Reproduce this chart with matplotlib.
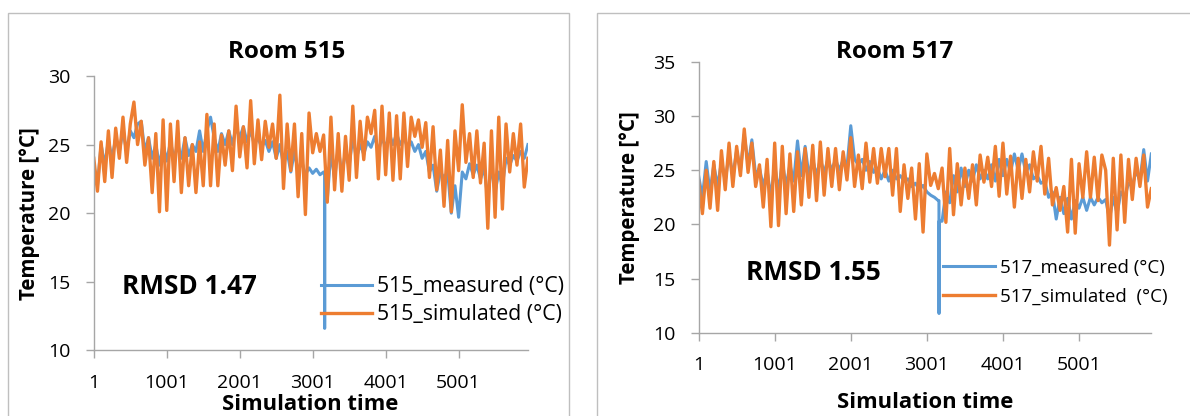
import numpy as np
import matplotlib
matplotlib.use("Agg")
import matplotlib.pyplot as plt
from matplotlib.patches import Rectangle

plt.rcParams['font.family'] = ['Open Sans', 'DejaVu Sans']

# ---------------- data (sampled every 50 simulation steps, starting at step 1) ----------------
STEP = 50

sim_515 = [24.0, 21.6, 25.2, 22.3, 26.0, 22.6, 26.2, 24.0, 27.0, 23.7,
           26.5, 28.1, 25.0, 26.7, 23.5, 25.5, 21.5, 25.8, 20.1, 26.8,
           20.2, 26.5, 22.3, 26.7, 21.5, 25.5, 22.0, 25.0, 21.5, 25.2,
           22.0, 27.2, 22.0, 26.5, 22.0, 25.7, 23.5, 26.0, 23.1, 27.8,
           24.1, 26.3, 23.3, 28.2, 23.6, 26.8, 23.9, 26.7, 24.8, 26.5,
           24.0, 28.6, 21.8, 26.5, 23.1, 26.5, 21.2, 25.8, 19.9, 27.3,
           24.4, 25.8, 24.5, 25.7, 20.8, 27.0, 21.7, 25.8, 21.6, 25.6,
           22.4, 27.8, 22.6, 26.7, 23.9, 27.0, 25.8, 27.5, 22.5, 27.8,
           22.8, 27.3, 22.4, 27.1, 22.5, 27.3, 23.4, 27.0, 25.6, 26.8,
           24.8, 26.6, 22.6, 26.3, 21.7, 24.6, 20.5, 25.3, 20.1, 26.0,
           23.1, 27.9, 23.7, 25.8, 22.6, 26.0, 22.2, 25.1, 18.9, 26.0,
           19.7, 27.0, 20.3, 26.5, 23.0, 25.8, 23.5, 26.5, 21.9, 24.0]

meas_515 = [23.5, 22.0, 25.0, 23.5, 25.3, 24.0, 25.5, 24.5, 26.0, 24.5,
            26.0, 25.5, 26.5, 26.7, 24.5, 25.5, 24.0, 25.0, 23.5, 25.0,
            23.8, 25.2, 24.0, 25.0, 24.0, 25.5, 24.2, 25.0, 24.5, 26.0,
            24.5, 26.0, 27.0, 25.5, 24.5, 25.8, 25.0, 26.0, 25.0, 26.3,
            25.5, 26.3, 25.2, 26.0, 25.0, 25.5, 24.8, 25.3, 24.5, 25.2,
            24.0, 25.0, 23.5, 24.5, 23.0, 24.5, 23.0, 23.8, 22.8, 23.3,
            22.9, 23.2, 22.8, 23.0, 21.0, 24.5, 22.5, 24.8, 22.8, 24.5,
            23.5, 25.5, 24.0, 25.0, 24.3, 25.2, 24.8, 25.6, 24.5, 25.5,
            24.8, 25.8, 25.0, 25.8, 25.0, 25.5, 24.8, 25.2, 24.5, 25.0,
            24.0, 24.5, 23.0, 23.5, 21.6, 23.0, 22.6, 23.0, 20.0, 22.0,
            19.7, 23.0, 22.5, 23.6, 22.8, 23.5, 22.5, 23.3, 21.0, 23.5,
            21.5, 23.0, 22.0, 24.0, 23.5, 24.2, 23.8, 24.5, 24.0, 25.0]

# sensor drop-out in the measured series (step, value)
drop_515_steps = [3164, 3165, 3166]
drop_515_vals = [23.0, 11.6, 20.8]

sim_517 = [24.0, 21.0, 25.0, 21.5, 25.8, 21.3, 26.8, 23.2, 27.5, 23.5,
           27.2, 24.5, 28.8, 24.8, 27.5, 23.5, 25.5, 21.6, 26.0, 19.8,
           27.5, 19.9, 27.2, 21.0, 26.5, 21.2, 26.7, 21.8, 27.0, 22.5,
           27.3, 22.2, 27.6, 22.7, 27.0, 23.5, 27.0, 23.2, 26.7, 24.1,
           28.0, 23.5, 26.4, 23.3, 27.5, 23.9, 27.0, 23.8, 27.0, 24.4,
           27.0, 22.7, 27.0, 21.2, 25.5, 22.4, 25.2, 20.5, 25.6, 19.3,
           26.5, 23.6, 24.7, 23.3, 25.2, 20.2, 27.0, 20.9, 25.6, 21.8,
           25.2, 22.4, 25.5, 21.8, 26.4, 23.9, 26.2, 23.5, 27.2, 22.6,
           27.5, 22.8, 26.3, 21.6, 26.1, 22.4, 26.0, 23.0, 26.7, 24.0,
           27.2, 22.8, 26.1, 21.8, 23.4, 21.3, 23.5, 19.3, 26.0, 19.2,
           25.6, 22.5, 26.7, 22.5, 26.2, 22.2, 26.4, 25.0, 18.1, 26.1,
           19.5, 26.4, 20.2, 26.0, 22.3, 26.1, 23.5, 26.4, 21.6, 23.3]

meas_517 = [24.5, 22.5, 25.8, 23.0, 25.5, 23.5, 25.8, 24.0, 26.5, 24.5,
            26.8, 25.0, 28.3, 25.5, 27.8, 24.5, 25.2, 23.5, 25.0, 22.5,
            25.5, 23.0, 25.8, 23.5, 25.5, 24.0, 27.7, 24.5, 27.2, 24.5,
            26.0, 24.5, 26.0, 24.8, 26.0, 25.0, 26.0, 25.0, 26.0, 25.3,
            29.1, 26.0, 25.5, 26.0, 25.0, 25.8, 24.8, 25.2, 24.2, 25.0,
            24.0, 25.0, 24.2, 24.5, 24.0, 24.2, 23.5, 23.8, 23.2, 23.6,
            23.0, 22.7, 22.5, 22.2, 20.3, 23.0, 22.0, 24.5, 23.0, 25.2,
            23.5, 25.0, 24.0, 25.5, 24.2, 25.0, 24.2, 25.5, 24.0, 26.0,
            24.5, 26.0, 24.8, 26.5, 25.0, 26.5, 24.8, 25.5, 24.2, 24.5,
            23.8, 24.0, 22.5, 23.0, 20.5, 22.5, 21.0, 22.4, 20.5, 22.2,
            21.5, 22.5, 21.3, 22.5, 21.8, 22.5, 22.0, 22.3, 20.5, 22.5,
            21.0, 23.0, 22.5, 23.8, 23.5, 25.0, 24.0, 26.9, 24.0, 26.5]

drop_517_steps = [3160, 3161, 3162]
drop_517_vals = [22.2, 11.8, 20.3]

x_ticks = [1, 1001, 2001, 3001, 4001, 5001]
x_tick_labels = ["1", "1001", "2001", "3001", "4001", "5001"]
y_ticks_515 = [10, 15, 20, 25, 30]
y_ticks_517 = [10, 15, 20, 25, 30, 35]
N_STEPS = 5952

BLUE = '#5B9BD5'
ORANGE = '#ED7D31'
AXIS_GRAY = '#A6A6A6'
BORDER = '#BFBFBF'

W, H = 1190, 416
fig = plt.figure(figsize=(W / 100, H / 100), dpi=100)


def fx(px):
    return px / W


def fy(py):
    return 1 - py / H


def series(vals):
    x = 1 + STEP * np.arange(len(vals))
    return x, np.asarray(vals, dtype=float)


def with_dropout(vals, dsteps, dvals):
    x, y = series(vals)
    x = np.concatenate([x, np.asarray(dsteps)])
    y = np.concatenate([y, np.asarray(dvals, dtype=float)])
    order = np.argsort(x, kind='stable')
    return x[order], y[order]


# chart-area borders
fig.patches.append(Rectangle((fx(7.7), fy(440)), fx(569) - fx(7.7), fy(12.7) - fy(440),
                             transform=fig.transFigure, fill=False, edgecolor=BORDER, lw=1.0))
fig.patches.append(Rectangle((fx(597), fy(440)), fx(1250) - fx(597), fy(12.7) - fy(440),
                             transform=fig.transFigure, fill=False, edgecolor=BORDER, lw=1.0))


def panel(px_left, px_right, py_top, py_bottom, sim, meas, dsteps, dvals, yticks, name,
          title_xy, ylabel_xy, xlabel_xy, rmsd_text, rmsd_xy, leg_xy, leg_labels, xpad,
          leg_fs, leg_hl, leg_ls):
    ax = fig.add_axes([fx(px_left), fy(py_bottom), fx(px_right) - fx(px_left),
                       fy(py_top) - fy(py_bottom)])
    xm, ym = with_dropout(meas, dsteps, dvals)
    xs, ys = series(sim)
    lm, = ax.plot(xm, ym, color=BLUE, lw=2.2, solid_joinstyle='round')
    ls, = ax.plot(xs, ys, color=ORANGE, lw=2.4, solid_joinstyle='round')
    ax.set_xlim(1, N_STEPS)
    ax.set_ylim(yticks[0], yticks[-1])
    ax.set_xticks(x_ticks)
    ax.set_xticklabels(x_tick_labels)
    ax.set_yticks(yticks)
    ax.set_yticklabels([str(v) for v in yticks])
    for s in ('top', 'right'):
        ax.spines[s].set_visible(False)
    for s in ('left', 'bottom'):
        ax.spines[s].set_color(AXIS_GRAY)
        ax.spines[s].set_linewidth(1.0)
    ax.tick_params(axis='both', direction='out', length=5.9, width=1.0, color=AXIS_GRAY,
                   labelsize=14, labelcolor='black')
    ax.tick_params(axis='y', pad=10.8)
    ax.tick_params(axis='x', pad=xpad)
    ax.patch.set_alpha(0)

    fig.text(fx(title_xy[0]), fy(title_xy[1]), name, ha='center', va='center',
             fontsize=17.5, fontweight='bold')
    fig.text(fx(ylabel_xy[0]), fy(ylabel_xy[1]), "Temperature [°C]", ha='center', va='center',
             rotation=90, fontsize=14.8, fontweight='bold')
    fig.text(fx(xlabel_xy[0]), fy(xlabel_xy[1]), "Simulation time", ha='center', va='center',
             fontsize=15.8, fontweight='bold')
    fig.text(fx(rmsd_xy[0]), fy(rmsd_xy[1]), rmsd_text, ha='left', va='center',
             fontsize=18.8, fontweight='bold')
    ax.legend([lm, ls], leg_labels, loc='center left',
              bbox_to_anchor=(fx(leg_xy[0]), fy(leg_xy[1])), bbox_transform=fig.transFigure,
              frameon=False, fontsize=leg_fs, handlelength=leg_hl, handletextpad=0.26,
              labelspacing=leg_ls, borderpad=0, borderaxespad=0)
    return ax


panel(93.8, 528, 76, 350.3, sim_515, meas_515, drop_515_steps, drop_515_vals, y_ticks_515,
      "Room 515", (287, 52), (29.5, 214), (310, 405), "RMSD 1.47", (121.7, 286),
      (320.7, 300.7), ["515_measured (°C)", "515_simulated (°C)"], 11.3,
      15.3, 2.41, 0.35)

panel(698.6, 1151.4, 61.7, 333, sim_517, meas_517, drop_517_steps, drop_517_vals, y_ticks_517,
      "Room 517", (895, 52), (629.5, 198), (925, 403), "RMSD 1.55", (745.7, 273),
      (943.4, 282.2), ["517_measured (°C)", "517_simulated  (°C)"], 10.3,
      13.5, 2.77, 0.56)

fig.savefig("out.png", dpi=100)
